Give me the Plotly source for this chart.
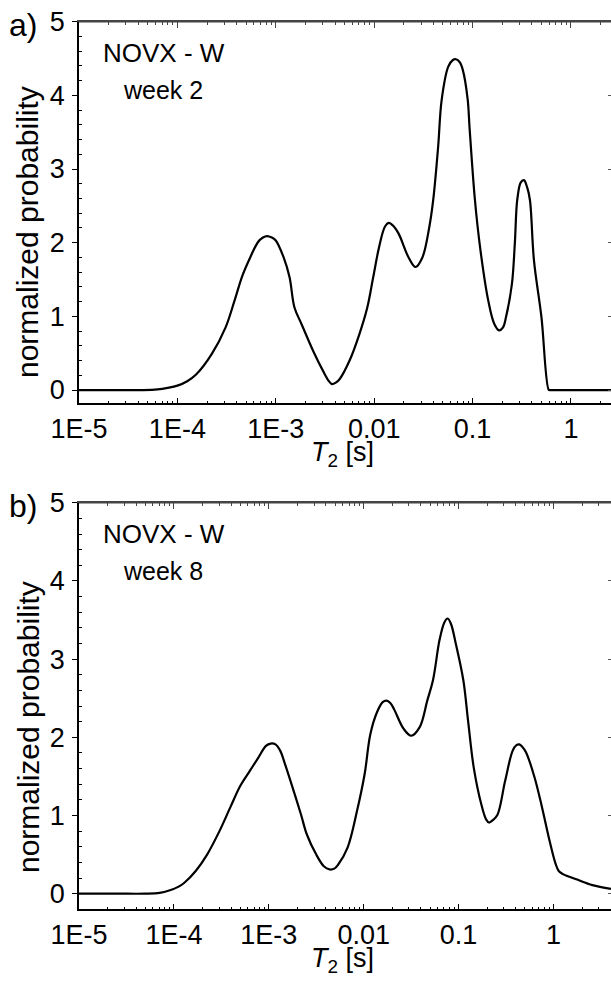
import numpy as np
import plotly.graph_objects as go

# ---------------- data ----------------
# panel a: NOVX - W, week 2   (log10 of T2 in seconds, normalized probability)
log_t2_a = [-5.0, -4.6, -4.35, -4.2, -4.1, -4.0, -3.9, -3.81, -3.65, -3.51, -3.42, -3.34, -3.26,
            -3.18, -3.13, -3.09, -3.04, -3.0, -2.92, -2.86, -2.81, -2.74, -2.62, -2.52, -2.46,
            -2.43, -2.39, -2.35, -2.25, -2.15, -2.07, -2.01, -1.95, -1.89, -1.85, -1.80, -1.75,
            -1.65, -1.58, -1.51, -1.44, -1.40, -1.35, -1.314, -1.247, -1.20, -1.169, -1.13,
            -1.10, -1.05, -1.03, -0.976, -0.92, -0.84, -0.78, -0.73, -0.69, -0.66, -0.60, -0.57,
            -0.546, -0.51, -0.478, -0.445, -0.417, -0.376, -0.30, -0.225, -0.21, 0.0, 0.41]
prob_a = [0.0, 0.0, 0.0, 0.01, 0.03, 0.06, 0.12, 0.21, 0.49, 0.85, 1.21, 1.55, 1.80,
          2.01, 2.07, 2.09, 2.07, 2.03, 1.80, 1.53, 1.12, 0.90, 0.53, 0.26, 0.12,
          0.08, 0.10, 0.15, 0.40, 0.76, 1.12, 1.53, 1.94, 2.22, 2.27, 2.22, 2.12,
          1.80, 1.67, 1.80, 2.21, 2.58, 3.30, 3.94, 4.39, 4.48, 4.49, 4.45,
          4.35, 3.95, 3.55, 2.58, 1.90, 1.21, 0.90, 0.81, 0.85, 0.99, 1.44, 2.00,
          2.58, 2.82, 2.85, 2.75, 2.58, 1.76, 0.99, 0.0, 0.0, 0.0, 0.0]

# panel b: NOVX - W, week 8
log_t2_b = [-5.0, -4.6, -4.3, -4.15, -4.05, -3.95, -3.89, -3.77, -3.65, -3.52, -3.40, -3.30, -3.20,
            -3.11, -3.03, -2.98, -2.93, -2.88, -2.83, -2.75, -2.66, -2.60, -2.50, -2.42, -2.36,
            -2.31, -2.27, -2.17, -2.07, -1.99, -1.93, -1.86, -1.80, -1.76, -1.72, -1.68, -1.58,
            -1.50, -1.41, -1.33, -1.27, -1.20, -1.15, -1.115, -1.08, -1.03, -0.95, -0.90, -0.84,
            -0.76, -0.71, -0.68, -0.64, -0.59, -0.51, -0.43, -0.39, -0.36, -0.33, -0.29, -0.20,
            -0.12, -0.04, 0.02, 0.055, 0.10, 0.25, 0.41, 0.606]
prob_b = [0.0, 0.0, 0.0, 0.01, 0.04, 0.09, 0.14, 0.29, 0.50, 0.80, 1.12, 1.38, 1.57,
          1.74, 1.89, 1.92, 1.91, 1.83, 1.66, 1.36, 1.01, 0.76, 0.50, 0.35, 0.31,
          0.32, 0.37, 0.59, 1.06, 1.53, 2.04, 2.32, 2.45, 2.47, 2.44, 2.36, 2.11,
          2.02, 2.13, 2.47, 2.73, 3.25, 3.47, 3.52, 3.45, 3.20, 2.73, 2.21, 1.61,
          1.14, 0.95, 0.91, 0.94, 1.01, 1.44, 1.83, 1.90, 1.91, 1.88, 1.81, 1.49,
          1.10, 0.67, 0.39, 0.29, 0.25, 0.18, 0.11, 0.06]

major_vals = [1e-5, 1e-4, 1e-3, 1e-2, 1e-1, 1.0]
major_text = ["1E-5", "1E-4", "1E-3", "0.01", "0.1", "1"]
minor_vals = [m * 10.0 ** e for e in range(-5, 1) for m in range(2, 10)]
y_major = [0, 1, 2, 3, 4, 5]
y_minor = [round(0.2 * k, 1) for k in range(0, 26) if k % 5 != 0]

labels = ["a)", "b)"]
sample_names = ["NOVX - W", "NOVX - W"]
weeks = ["week 2", "week 8"]

# ---------------- layout geometry ----------------
W, H = 611, 982
FONT = "Liberation Sans, Arial, sans-serif"


def px_x(x):
    return x / W


def px_y(y):
    return 1 - y / H


left_px, right_px = 79, 611
panels = [
    dict(top=21.7, bottom=403.3, yr=[-0.18, 5.0], xr=[-5.0, 0.407], ytitle=232),
    dict(top=502.8, bottom=909.3, yr=[-0.20, 5.0], xr=[-5.0, 0.606], ytitle=727),
]

fig = go.Figure()
series = [(log_t2_a, prob_a), (log_t2_b, prob_b)]
for i, (lx, pv) in enumerate(series):
    sfx = "" if i == 0 else "2"
    rsfx = str(3 + i)
    tsfx = str(5 + i)
    xs = 10.0 ** np.array(lx)
    fig.add_trace(go.Scatter(
        x=xs, y=pv, mode="lines",
        line=dict(color="black", width=2.2, shape="spline", smoothing=1.0),
        xaxis="x" + sfx, yaxis="y" + sfx, showlegend=False, hoverinfo="skip"))
    # invisible copies so the right-hand and top frame axes are drawn
    fig.add_trace(go.Scatter(
        x=xs, y=pv, mode="lines", line=dict(width=0, color="rgba(0,0,0,0)"),
        xaxis="x" + sfx, yaxis="y" + rsfx, showlegend=False, hoverinfo="skip"))
    fig.add_trace(go.Scatter(
        x=xs, y=pv, mode="lines", line=dict(width=0, color="rgba(0,0,0,0)"),
        xaxis="x" + tsfx, yaxis="y" + sfx, showlegend=False, hoverinfo="skip"))

layout = dict(
    width=W, height=H,
    margin=dict(l=0, r=0, t=0, b=0, autoexpand=False),
    paper_bgcolor="white", plot_bgcolor="white",
    font=dict(family=FONT, color="black", size=27),
    showlegend=False,
)

annotations = []
shapes = []
for i, p in enumerate(panels):
    sfx = "" if i == 0 else "2"
    rsfx = str(3 + i)
    tsfx = str(5 + i)
    xdom = [px_x(left_px), px_x(right_px)]
    xa = dict(
        type="log", range=p["xr"], domain=xdom,
        anchor="y" + sfx, showline=True, linecolor="black", linewidth=1.5,
        mirror=False, ticks="inside", ticklen=6, tickwidth=1.3, tickcolor="black",
        tickmode="array", tickvals=major_vals, ticktext=major_text,
        tickfont=dict(size=27, family=FONT), showgrid=False, zeroline=False,
        minor=dict(tickmode="array", tickvals=minor_vals, ticks="inside", ticklen=3,
                   tickwidth=1, tickcolor="black", showgrid=False),
        ticklabelstandoff=1, automargin=False,
    )
    # top frame axis: dark grey line with inward ticks, no labels
    xt = dict(
        type="log", range=p["xr"], domain=xdom, overlaying="x" + sfx,
        anchor="y" + sfx, side="top", showline=True, linecolor="#444444", linewidth=1.6,
        ticks="inside", ticklen=6, tickwidth=1.3, tickcolor="#444444",
        tickmode="array", tickvals=major_vals, showticklabels=False,
        showgrid=False, zeroline=False,
        minor=dict(tickmode="array", tickvals=minor_vals, ticks="inside", ticklen=3,
                   tickwidth=1, tickcolor="#444444", showgrid=False),
        automargin=False,
    )
    ya = dict(
        range=p["yr"], domain=[px_y(p["bottom"]), px_y(p["top"])],
        anchor="x" + sfx, showline=True, linecolor="black", linewidth=1.5,
        mirror=False, ticks="outside", ticklen=5, tickwidth=1.3, tickcolor="black",
        tickmode="array", tickvals=y_major, ticktext=[str(v) for v in y_major],
        tickfont=dict(size=27, family=FONT), showgrid=False, zeroline=False,
        minor=dict(tickmode="array", tickvals=y_minor, ticks="inside", ticklen=3,
                   tickwidth=1, tickcolor="black", showgrid=False),
        ticklabelstandoff=2, automargin=False,
    )
    # right-hand frame ticks (the frame line itself lies just outside the picture)
    yr_axis = dict(
        range=p["yr"], overlaying="y" + sfx, anchor="x" + sfx, side="right",
        showline=False, ticks="inside", ticklen=3, tickwidth=1, tickcolor="#555555",
        tickmode="array", tickvals=y_major, showticklabels=False,
        showgrid=False, zeroline=False, automargin=False,
    )
    layout["xaxis" + sfx] = xa
    layout["xaxis" + tsfx] = xt
    layout["yaxis" + sfx] = ya
    layout["yaxis" + rsfx] = yr_axis

    # top frame line (drawn as a domain-referenced shape as well)
    shapes.append(dict(type="line", xref="x" + sfx + " domain", yref="y" + sfx + " domain",
                       x0=0, x1=1, y0=1, y1=1, layer="above",
                       line=dict(color="#444444", width=1.6)))

    top, bottom = p["top"], p["bottom"]
    # panel label
    annotations.append(dict(text=labels[i], x=px_x(7), y=px_y(top + 3), xref="paper", yref="paper",
                            xanchor="left", yanchor="middle", showarrow=False,
                            font=dict(size=32, family=FONT)))
    # sample name / week
    annotations.append(dict(text=sample_names[i], x=px_x(101), y=px_y(top + 31), xref="paper",
                            yref="paper", xanchor="left", yanchor="middle", showarrow=False,
                            font=dict(size=26, family=FONT)))
    annotations.append(dict(text=weeks[i], x=px_x(121), y=px_y(top + 68), xref="paper",
                            yref="paper", xanchor="left", yanchor="middle", showarrow=False,
                            font=dict(size=25, family=FONT)))
    # axis titles
    annotations.append(dict(text="<i>T</i><sub>2</sub> [s]", x=px_x((left_px + right_px) / 2 - 3),
                            y=px_y(bottom + 51), xref="paper", yref="paper",
                            xanchor="center", yanchor="middle", showarrow=False,
                            font=dict(size=27, family=FONT)))
    annotations.append(dict(text="normalized probability", x=px_x(28),
                            y=px_y(p["ytitle"]), xref="paper", yref="paper",
                            xanchor="center", yanchor="middle", textangle=-90, showarrow=False,
                            font=dict(size=30, family=FONT)))

layout["annotations"] = annotations
layout["shapes"] = shapes
fig.update_layout(**layout)
fig.write_html(
    "out.html",
    config={"displayModeBar": False},
    post_script="document.body.style.margin='0';document.body.style.overflow='hidden';",
)
